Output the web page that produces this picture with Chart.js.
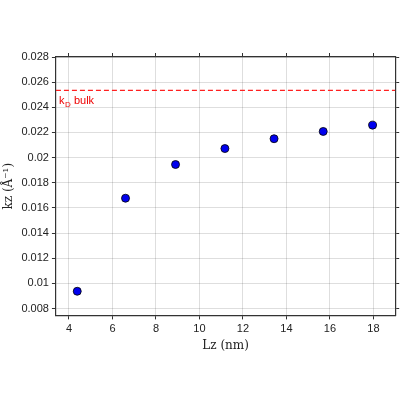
<!DOCTYPE html><html><head><script src="https://cdn.jsdelivr.net/npm/chart.js@4"></script>
<style>body{margin:0}#w{width:400px;height:400px}</style></head><body><div id="w"><canvas id="c"></canvas></div>
<script>
const lz=[4.38,6.6,8.9,11.17,13.43,15.69,17.96];
const kz=[0.00937,0.01677,0.01945,0.02072,0.0215,0.02208,0.02258];
const kBulk=0.02535;
const xTicks=[4,6,8,10,12,14,16,18];
const yTicks=[0.008,0.01,0.012,0.014,0.016,0.018,0.02,0.022,0.024,0.026,0.028];
const XMIN=3.4,XMAX=19.0,YMIN=0.00745,YMAX=0.028;
const lbl=v=>String(+v.toFixed(3));
const labelPlug={id:'lab',afterDatasetsDraw(ch){const c=ch.ctx,x=ch.scales.x,y=ch.scales.y;c.save();c.fillStyle='#e00';c.font='11px Liberation Sans, Arial';c.textBaseline='top';
const px=x.left+3,py=y.getPixelForValue(kBulk)+5;c.fillText('k',px,py);c.font='8px Liberation Sans, Arial';c.fillText('D',px+6,py+5);c.font='11px Liberation Sans, Arial';c.fillText('bulk',px+15,py);c.restore();}};
const grid={color:'rgba(0,0,0,0.13)',tickColor:'#333',tickLength:4};
new Chart(document.getElementById('c'),{type:'scatter',data:{datasets:[
{data:lz.map((v,i)=>({x:v,y:kz[i]})),backgroundColor:'#0000ee',borderColor:'#000',borderWidth:0.8,pointRadius:4},
{type:'line',data:[{x:XMIN,y:kBulk},{x:XMAX,y:kBulk}],borderColor:'#ff2020',borderWidth:1.2,borderDash:[5,3],pointRadius:0}]},
options:{responsive:true,maintainAspectRatio:false,animation:false,layout:{padding:{top:53,right:0,bottom:47,left:0}},
plugins:{legend:{display:false},tooltip:{enabled:false}},
scales:{x:{type:'linear',min:XMIN,max:XMAX,afterBuildTicks:s=>{s.ticks=xTicks.map(v=>({value:v}))},grid:grid,border:{color:'#333',width:1.2},
ticks:{color:'#222',font:{size:11,family:'Liberation Sans'},maxRotation:0},title:{display:true,text:'Lz (nm)',color:'#222',font:{size:12,family:'DejaVu Serif'},padding:0}},
x2:{type:'linear',position:'top',min:XMIN,max:XMAX,afterBuildTicks:s=>{s.ticks=xTicks.map(v=>({value:v}))},grid:{display:true,drawOnChartArea:false,tickColor:'#333',tickLength:4},border:{color:'#333',width:1.2},ticks:{display:false}},
y:{min:YMIN,max:YMAX,afterBuildTicks:s=>{s.ticks=yTicks.map(v=>({value:v}))},grid:grid,border:{color:'#333',width:1.2},
ticks:{color:'#222',font:{size:11,family:'Liberation Sans'},callback:v=>lbl(v)},title:{display:true,text:'kz (Å⁻¹)',color:'#222',font:{size:12,family:'DejaVu Serif'},padding:2}},
y2:{position:'right',min:YMIN,max:YMAX,afterBuildTicks:s=>{s.ticks=yTicks.map(v=>({value:v}))},grid:{display:true,drawOnChartArea:false,tickColor:'#333',tickLength:4},border:{color:'#333',width:1.2},ticks:{display:false}}}},
plugins:[labelPlug]});
</script></body></html>
